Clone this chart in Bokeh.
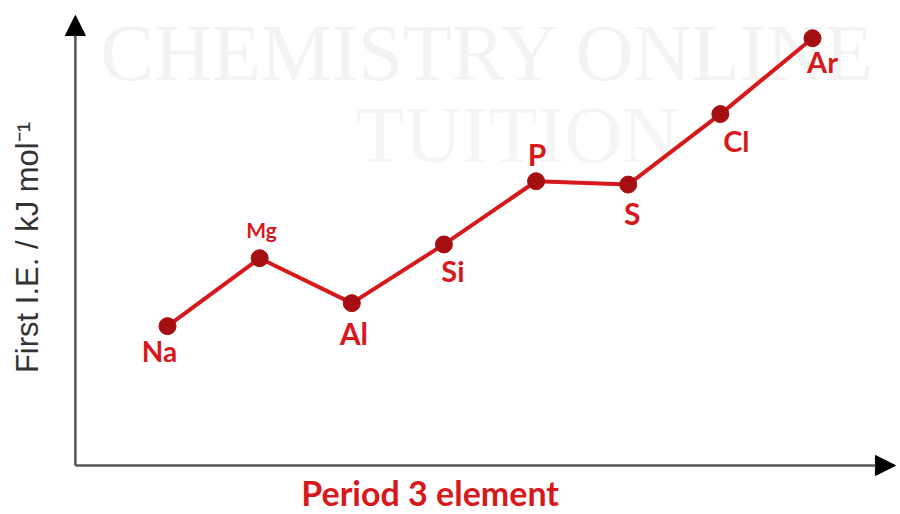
from bokeh.plotting import figure
from bokeh.models import Range1d, Arrow, NormalHead, ColumnDataSource, Label
from bokeh.core.properties import value
from bokeh.embed import file_html
from bokeh.resources import INLINE

# Data: first ionisation energies of period 3 elements (kJ/mol)
elements = ["Na", "Mg", "Al", "Si", "P", "S", "Cl", "Ar"]
position = [1, 2, 3, 4, 5, 6, 7, 8]
first_ie = [496, 738, 578, 787, 1012, 1000, 1251, 1521]

# Label styling (pixel offsets from each point, +down; font sizes)
label_dx = [-8, 2, 2, 9, 1, 4, 16, 10]
label_dy = [25, -29, 30, 26, -27, 28, 26, 23]
label_size = ["28px", "21px", "30px", "29px", "30px", "30px", "29px", "29px"]

RED = "#d7191c"
DARK = "#a50f12"

p = figure(width=900, height=514, output_backend="svg", toolbar_location=None,
           x_range=Range1d(-0.8125, 8.955), y_range=Range1d(-174.4, 1655.4),
           min_border=0)
p.axis.visible = False
p.grid.visible = False
p.outline_line_color = None
p.background_fill_color = "white"

# faint watermark (behind everything)
p.add_layout(Label(x=0.273, y=1470, text="CHEMISTRY ONLINE", text_font="Liberation Serif",
                   text_font_size="80px", text_color="#f3f3f3", text_baseline="middle",
                   level="underlay"))
p.add_layout(Label(x=3.04, y=1175, text="TUITION", text_font="Liberation Serif",
                   text_font_size="80px", text_color="#f5f5f5", text_baseline="middle",
                   level="underlay"))

# axes with arrows
p.add_layout(Arrow(end=NormalHead(size=20, fill_color="black", line_color="black"),
                   x_start=0, y_start=0, x_end=0, y_end=1602,
                   line_color="#555555", line_width=2.5))
p.add_layout(Arrow(end=NormalHead(size=20, fill_color="black", line_color="black"),
                   x_start=0, y_start=0, x_end=8.9, y_end=0,
                   line_color="#555555", line_width=2.5))

src = ColumnDataSource(dict(x=position, y=first_ie, name=elements,
                            dx=label_dx, dy=label_dy, fs=label_size))
p.line("x", "y", source=src, line_color=RED, line_width=4)
p.scatter("x", "y", source=src, size=17, fill_color=DARK, line_color=DARK)
p.text("x", "y", text="name", source=src, x_offset="dx", y_offset="dy",
       text_font=value("Lato"), text_font_style="bold", text_font_size="fs",
       text_color=RED, text_align="center", text_baseline="middle")

p.add_layout(Label(x=3.85, y=-96, text="Period 3 element", text_font="Lato",
                   text_font_style="bold", text_font_size="34px", text_color=RED,
                   text_align="center", text_baseline="middle"))
p.add_layout(Label(x=-0.52, y=776, text="First I.E. / kJ mol\u207b\u00b9", angle=1.5708,
                   text_font="Liberation Sans", text_font_size="31px",
                   text_color="#333333", text_align="center", text_baseline="middle"))

open("out.html", "w").write(file_html(p, INLINE))
